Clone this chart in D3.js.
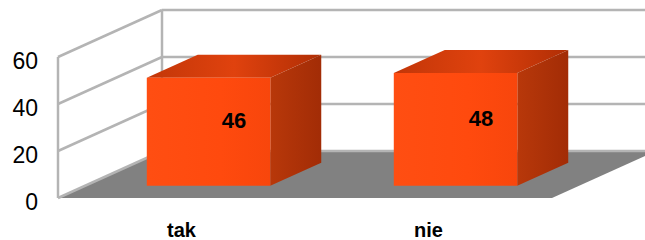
<!DOCTYPE html>
<html>
<head>
<meta charset="utf-8">
<script src="https://cdn.jsdelivr.net/npm/d3@7"></script>
<style>
  body { margin: 0; background: #fff; }
  svg { display: block; font-family: "Liberation Sans", Arial, sans-serif; }
</style>
</head>
<body>
<svg width="645" height="240"></svg>
<script>
var categories = ["tak", "nie"];
var values = [46, 48];
var yTicks = [0, 20, 40, 60];

var svg = d3.select("svg"),
    base = 198,          // front floor line
    left = 58, right = 552,
    depth = {dx: 104, dy: -47},
    zFront = 0.26, zBack = 0.75;

var x = d3.scaleBand().domain(categories).range([left, right]).paddingInner(0.5).paddingOuter(0.25);
var h = d3.scaleLinear().domain([0, 60]).range([0, 141]);
var y = d3.scaleLinear().domain([0, 60]).range([base, base - 141]);

// project a point (front x, value, depth fraction)
function P(px, v, z) {
  return [px + z * depth.dx, base - h(v) + z * depth.dy];
}

var defs = svg.append("defs");
function grad(id, stops, x2, y2) {
  var g = defs.append("linearGradient").attr("id", id)
      .attr("x1", 0).attr("y1", 0).attr("x2", x2).attr("y2", y2);
  stops.forEach(function(s) {
    g.append("stop").attr("offset", s[0]).attr("stop-color", s[1]);
  });
}
grad("gFront", [[0, "#ff4e12"], [0.6, "#ff4a0e"], [1, "#f8460c"]], 1, 0);
grad("gTop", [[0, "#c23608"], [0.5, "#e0420e"], [1, "#b02e05"]], 1, 0);
grad("gSide", [[0, "#b8380a"], [1, "#a22c06"]], 1, 0);

var line = d3.line();
var gridColor = "#b4b4b4";

// floor
svg.append("path")
    .attr("d", line([P(left, 0, 0), P(right, 0, 0), P(right, 0, 1), P(left, 0, 1)]) + "Z")
    .attr("fill", "#818181");

// back wall gridlines
svg.selectAll(".back-grid")
  .data(yTicks)
  .enter().append("path")
    .attr("class", "back-grid")
    .attr("d", function(d) { return line([P(left, d, 1), P(right + 20, d, 1)]); })
    .attr("stroke", gridColor)
    .attr("stroke-width", 2.5)
    .attr("fill", "none");

// left wall gridlines
svg.selectAll(".side-grid")
  .data(yTicks)
  .enter().append("path")
    .attr("class", "side-grid")
    .attr("d", function(d) { return line([P(left, d, 0), P(left, d, 1)]); })
    .attr("stroke", gridColor)
    .attr("stroke-width", 2.5)
    .attr("fill", "none");

// wall verticals
[0, 1].forEach(function(z) {
  svg.append("path")
      .attr("d", line([P(left, 0, z), P(left, 60, z)]))
      .attr("stroke", gridColor)
      .attr("stroke-width", 2.5)
      .attr("fill", "none");
});

// bars
var bars = svg.selectAll(".bar")
  .data(categories.map(function(c, i) { return {cat: c, val: values[i]}; }))
  .enter().append("g")
    .attr("class", "bar");

bars.append("path")
    .attr("fill", "url(#gTop)")
    .attr("d", function(d) {
      var x0 = x(d.cat), x1 = x0 + x.bandwidth();
      return line([P(x0, d.val, zFront), P(x1, d.val, zFront), P(x1, d.val, zBack), P(x0, d.val, zBack)]) + "Z";
    });

bars.append("path")
    .attr("fill", "url(#gSide)")
    .attr("d", function(d) {
      var x1 = x(d.cat) + x.bandwidth();
      return line([P(x1, 0, zFront), P(x1, d.val, zFront), P(x1, d.val, zBack), P(x1, 0, zBack)]) + "Z";
    });

bars.append("path")
    .attr("fill", "url(#gFront)")
    .attr("d", function(d) {
      var x0 = x(d.cat), x1 = x0 + x.bandwidth();
      return line([P(x0, 0, zFront), P(x1, 0, zFront), P(x1, d.val, zFront), P(x0, d.val, zFront)]) + "Z";
    });

bars.append("text")
    .attr("x", function(d) { return P(x(d.cat) + x.bandwidth() / 2, d.val / 2, (zFront + zBack) / 2)[0]; })
    .attr("y", function(d) { return P(x(d.cat) + x.bandwidth() / 2, d.val / 2, (zFront + zBack) / 2)[1]; })
    .attr("dy", "0.36em")
    .attr("text-anchor", "middle")
    .attr("font-size", "22px")
    .attr("font-weight", "bold")
    .attr("fill", "#000")
    .text(function(d) { return d.val; });

// y axis
var yAxis = svg.append("g")
    .attr("transform", "translate(40,4)")
    .call(d3.axisLeft(y).tickValues(yTicks).tickSize(0).tickPadding(2));
yAxis.select(".domain").remove();
yAxis.selectAll("text")
    .attr("font-size", "23px")
    .attr("font-family", "Liberation Sans, Arial, sans-serif")
    .attr("fill", "#000");

// category labels
svg.selectAll(".cat")
  .data(categories)
  .enter().append("text")
    .attr("class", "cat")
    .attr("x", function(d) { return x(d) + x.bandwidth() / 2; })
    .attr("y", 237)
    .attr("text-anchor", "middle")
    .attr("font-size", "20px")
    .attr("font-weight", "bold")
    .text(function(d) { return d; });
</script>
</body>
</html>
